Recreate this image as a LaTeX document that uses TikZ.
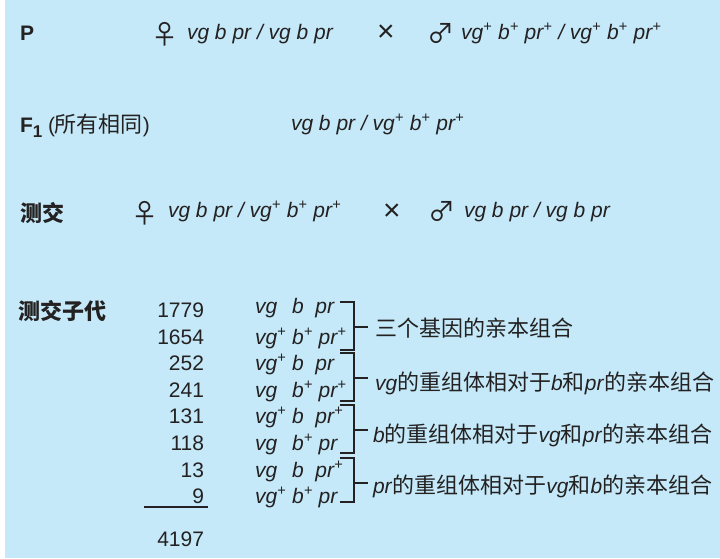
\documentclass[tikz,border=0pt]{standalone}
\usepackage{fontspec}
\setmainfont{Liberation Sans}
\newfontfamily\cjk{Noto Sans CJK SC}
\definecolor{bgc}{RGB}{197,233,248}
\definecolor{ink}{RGB}{35,33,34}
\newcommand\gp{\textsuperscript{+}}
\newcommand\gn{\phantom{\textsuperscript{+}}}
\newcommand\gt[1]{\textit{#1}}
\newcommand\zh[1]{{\cjk\fontsize{22}{26}\selectfont #1}}
\begin{document}
\begin{tikzpicture}[x=1pt,y=-1pt,
  every node/.style={inner sep=0pt, outer sep=0pt, text=ink, font=\fontsize{21}{25}\selectfont},
  lab/.style={anchor=base west},
  num/.style={anchor=base east},
  bold/.style={anchor=base west, font=\bfseries\fontsize{21}{25}\selectfont},
  sexsym/.style={anchor=center, font=\cjk\fontsize{27}{30}\selectfont},
  cross/.style={anchor=center, font=\fontsize{30}{32}\selectfont},
  cj/.style={anchor=base west, font=\cjk\fontsize{22}{26}\selectfont},
  cjb/.style={anchor=base west, font=\cjk\bfseries\fontsize{22}{26}\selectfont},
  brk/.style={draw=ink, line width=1.4pt},
  sumline/.style={draw=ink, line width=1.2pt}]
\useasboundingbox (0,0) rectangle (720,558);
\fill[bgc] (5,0) rectangle (720,558);

% Row P
\node[bold] (P) at (20,40) {P};
\node[sexsym] (pf) at (165,34) {♀};
\node[lab] (pg1) at (187,39) {\gt{vg b pr / vg b pr}};
\node[cross] (px) at (386,33) {×};
\node[sexsym] (pm) at (441,34) {♂};
\node[lab] (pg2) at (461,39) {\gt{vg\gp{} b\gp{} pr\gp{} / vg\gp{} b\gp{} pr\gp}};

% Row F1
\node[bold] (F1) at (20,132) {F{\fontsize{17}{20}\selectfont\raisebox{-5pt}{1}}};
\node[lab] (F1c) at (48,132) {(\zh{所有相同})};
\node[lab] (fg) at (291,130) {\gt{vg b pr / vg\gp{} b\gp{} pr\gp}};

% Row test cross
\node[cjb] (tc) at (20,221) {测交};
\node[sexsym] (tf) at (145,213) {♀};
\node[lab] (tg1) at (168,217) {\gt{vg b pr / vg\gp{} b\gp{} pr\gp}};
\node[cross] (tx) at (392,212) {×};
\node[sexsym] (tm) at (442,212) {♂};
\node[lab] (tg2) at (464,217) {\gt{vg b pr / vg b pr}};

% Offspring
\node[cjb] (off) at (19,319) {测交子代};

\node[num] (n1) at (204,317) {1779};
\node[num] (n2) at (204,344) {1654};
\node[num] (n3) at (204,370) {252};
\node[num] (n4) at (204,397) {241};
\node[num] (n5) at (204,423) {131};
\node[num] (n6) at (204,450) {118};
\node[num] (n7) at (204,477) {13};
\node[num] (n8) at (204,503) {9};
\node[num] (nt) at (204,546) {4197};
\draw[sumline] (144,507) -- (208,507);

\node[lab] (g1) at (255,313) {\gt{vg\gn\ b\ \ pr}};
\node[lab] (g2) at (255,344) {\gt{vg\gp\ b\gp\ pr\gp}};
\node[lab] (g3) at (255,370) {\gt{vg\gp\ b\ \ pr}};
\node[lab] (g4) at (255,397) {\gt{vg\gn\ b\gp\ pr\gp}};
\node[lab] (g5) at (255,423) {\gt{vg\gp\ b\ \ pr\gp}};
\node[lab] (g6) at (255,450) {\gt{vg\gn\ b\gp\ pr}};
\node[lab] (g7) at (255,477) {\gt{vg\gn\ b\ \ pr\gp}};
\node[lab] (g8) at (255,503) {\gt{vg\gp\ b\gp\ pr}};

% Brackets
\draw[brk] (340,302) -- (354,302) -- (354,350) -- (340,350);
\draw[brk] (354,327) -- (368,327);
\draw[brk] (340,353) -- (354,353) -- (354,401) -- (340,401);
\draw[brk] (354,378) -- (368,378);
\draw[brk] (340,405) -- (354,405) -- (354,453) -- (340,453);
\draw[brk] (354,430) -- (368,430);
\draw[brk] (340,458) -- (354,458) -- (354,502) -- (340,502);
\draw[brk] (354,483) -- (368,483);

% Labels
\node[cj] (L1) at (375,336) {三个基因的亲本组合};
\node[lab] (L2) at (375,390) {\gt{vg}\zh{的重组体相对于}\gt{b}\zh{和}\gt{pr}\zh{的亲本组合}};
\node[lab] (L3) at (373,442) {\gt{b}\zh{的重组体相对于}\gt{vg}\zh{和}\gt{pr}\zh{的亲本组合}};
\node[lab] (L4) at (373,493) {\gt{pr}\zh{的重组体相对于}\gt{vg}\zh{和}\gt{b}\zh{的亲本组合}};
\end{tikzpicture}
\end{document}
